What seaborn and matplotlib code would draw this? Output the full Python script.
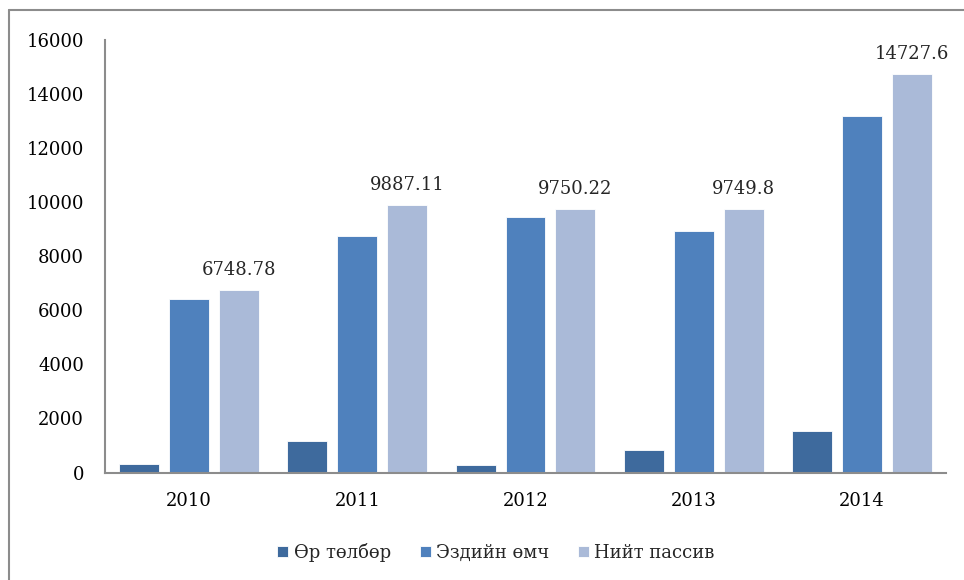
import matplotlib
matplotlib.use("Agg")
import matplotlib.pyplot as plt
from matplotlib.lines import Line2D
import seaborn as sns
import pandas as pd

years = ["2010", "2011", "2012", "2013", "2014"]
series = ["Өр төлбөр", "Эздийн өмч", "Нийт пассив"]
debt = [320, 1150, 280, 830, 1530]
equity = [6428, 8737, 9470, 8920, 13197]
total = [6748.78, 9887.11, 9750.22, 9749.8, 14727.6]
total_labels = ["6748.78", "9887.11", "9750.22", "9749.8", "14727.6"]
colors = ["#3E6A9D", "#4F81BD", "#AABAD8"]

rows = []
for name, vals in zip(series, [debt, equity, total]):
    for y, v in zip(years, vals):
        rows.append({"year": y, "series": name, "value": v})
df = pd.DataFrame(rows)

sns.set_theme(style="white")
plt.rcParams["font.family"] = ["DejaVu Serif", "Liberation Serif"]
FS = 13

fig = plt.figure(figsize=(9.64, 5.8), dpi=100)
ax = fig.add_axes([105 / 964, 1 - 472.5 / 580, (946 - 105) / 964, (472.5 - 40) / 580])

sns.barplot(data=df, x="year", y="value", hue="series", palette=colors, saturation=1,
            width=0.89, gap=0.2, ax=ax, legend=True, edgecolor="white", linewidth=0.6)

ax.set_ylim(0, 16000)
ax.set_yticks(range(0, 16001, 2000))
ax.set_xlabel("")
ax.set_ylabel("")
for s in ["top", "right"]:
    ax.spines[s].set_visible(False)
for s in ["left", "bottom"]:
    ax.spines[s].set_color("#8C8C8C")
    ax.spines[s].set_linewidth(1.5)
ax.tick_params(axis="y", length=0, pad=15, labelsize=FS, colors="black")
ax.tick_params(axis="x", length=0, pad=14, labelsize=FS, colors="black")

cont = ax.containers[2]
ax.bar_label(cont, labels=total_labels, padding=8, fontsize=FS)

leg = ax.legend(loc="upper center", bbox_to_anchor=(0.465, -0.125), ncol=3, frameon=False,
                fontsize=FS, handlelength=0.6, handleheight=0.6, handletextpad=0.3,
                columnspacing=1.6)

fig.add_artist(Line2D([9 / 964, 9 / 964], [0, 1 - 10 / 580], transform=fig.transFigure,
                      color="#8C8C8C", lw=1.5))
fig.add_artist(Line2D([9 / 964, 1], [1 - 10 / 580, 1 - 10 / 580], transform=fig.transFigure,
                      color="#8C8C8C", lw=1.5))

fig.savefig("out.png", dpi=100)
